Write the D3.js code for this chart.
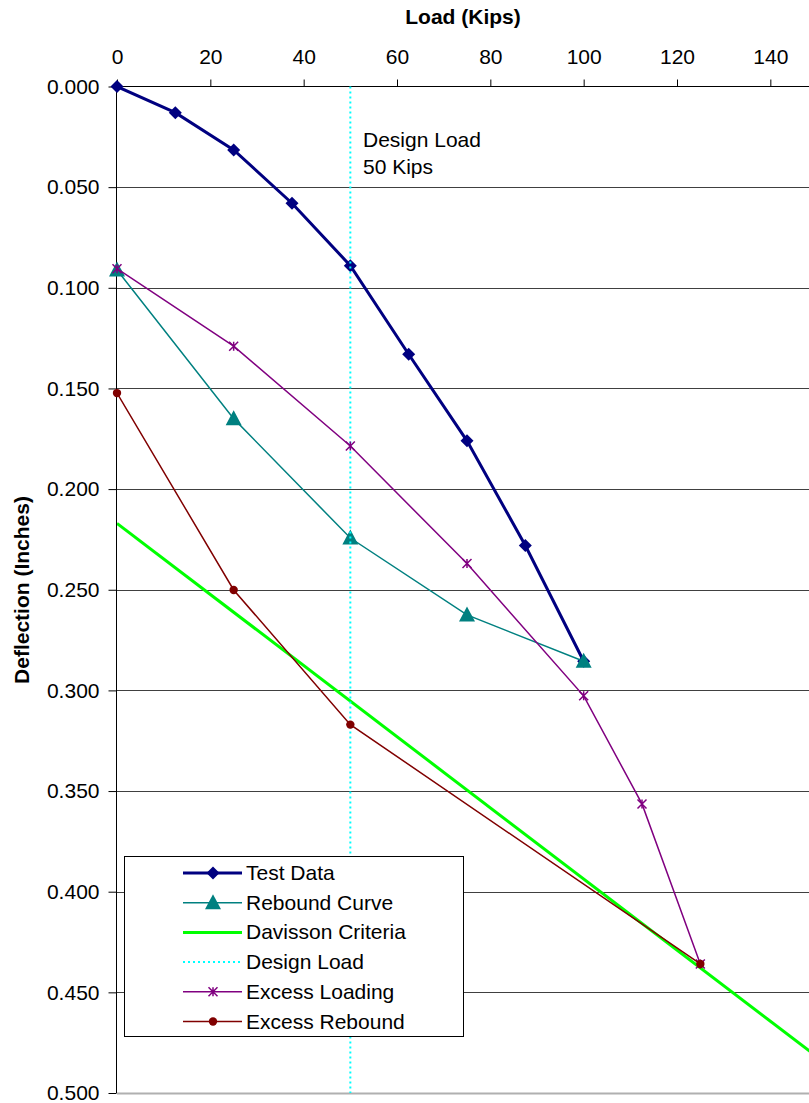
<!DOCTYPE html>
<html><head><meta charset="utf-8">
<script src="https://cdn.jsdelivr.net/npm/d3@7"></script>
<style>body{margin:0;background:#fff}svg{display:block}text{font-family:"Liberation Sans",Arial,sans-serif}</style>
</head><body>
<svg id="c" width="809" height="1103"></svg>
<script>
const xTicks = [0,20,40,60,80,100,120,140];
const yTicks = [0,0.05,0.1,0.15,0.2,0.25,0.3,0.35,0.4,0.45,0.5];
const testLoad = [0,12.5,25,37.5,50,62.5,75,87.5,100];
const testDefl = [0,0.013,0.0315,0.058,0.089,0.133,0.176,0.228,0.2855];
const reboundLoad = [100,75,50,25,0];
const reboundDefl = [0.2855,0.2625,0.2243,0.165,0.0912];
const davLoad = [0,150];
const davDefl = [0.217,0.482];
const designLoad = [50,50];
const designDefl = [0,0.5];
const exLoadLoad = [0,25,50,75,100,112.5,125];
const exLoadDefl = [0.0905,0.129,0.1786,0.237,0.3027,0.3564,0.4359];
const exRebLoad = [125,50,25,0];
const exRebDefl = [0.4359,0.317,0.2501,0.1523];

const FONT = "Liberation Sans, Arial, sans-serif";
const svg = d3.select("#c");
const x = d3.scaleLinear().domain([0,150]).range([117,817]);
const y = d3.scaleLinear().domain([0,0.5]).range([86.5,1093]);

// gridlines
svg.append("g").selectAll("line").data(yTicks.slice(1)).join("line")
  .attr("x1",117).attr("x2",809).attr("y1",d=>Math.round(y(d))+0.5).attr("y2",d=>Math.round(y(d))+0.5)
  .attr("stroke",d=>d===0.5?"#b0b0b0":"#404040").attr("stroke-width",d=>d===0.5?2:1);

// axes
const xAxis = d3.axisTop(x).tickValues(xTicks).tickSize(7).tickPadding(16);
const gx = svg.append("g").attr("transform","translate(0,86.5)").call(xAxis);
gx.select(".domain").attr("d","M117,0H809").attr("stroke","#000");
gx.selectAll("text").attr("font-size",21).attr("fill","#000").attr("font-family",FONT);
gx.selectAll("line").attr("stroke","#000");

const yAxis = d3.axisLeft(y).tickValues(yTicks).tickFormat(d3.format(".3f")).tickSize(8).tickPadding(9);
const gy = svg.append("g").attr("transform","translate(116.5,0)").call(yAxis);
gy.select(".domain").attr("d","M0,86.5V1093").attr("stroke","#000");
gy.selectAll("text").attr("font-size",21).attr("fill","#000").attr("font-family",FONT);
gy.selectAll("line").attr("stroke","#000");

svg.append("text").attr("x",463).attr("y",24).attr("text-anchor","middle")
  .attr("font-size",21).attr("font-weight","bold").text("Load (Kips)");
svg.append("text").attr("transform","translate(29,590) rotate(-90)").attr("text-anchor","middle")
  .attr("font-size",21).attr("font-weight","bold").text("Deflection (Inches)");

const line = d3.line().x(d=>x(d[0])).y(d=>y(d[1]));
const zip = (a,b)=>a.map((v,i)=>[v,b[i]]);
const plot = svg.append("g");
plot.append("clipPath").attr("id","clip").append("rect").attr("x",117).attr("y",86).attr("width",700).attr("height",1008);
const series = [
  {name:"Test Data", pts:zip(testLoad,testDefl), color:"#000080", w:3, marker:"diamond"},
  {name:"Rebound Curve", pts:zip(reboundLoad,reboundDefl), color:"#008080", w:1.5, marker:"triangle"},
  {name:"Davisson Criteria", pts:zip(davLoad,davDefl), color:"#00FF00", w:3, marker:null},
  {name:"Design Load", pts:zip(designLoad,designDefl), color:"#00FFFF", w:2, marker:null, dash:"2,3"},
  {name:"Excess Loading", pts:zip(exLoadLoad,exLoadDefl), color:"#800080", w:1.5, marker:"star"},
  {name:"Excess Rebound", pts:zip(exRebLoad,exRebDefl), color:"#800000", w:1.5, marker:"circle"}
];
function drawMarker(g, type, color, cx, cy){
  if(type==="diamond"){
    g.append("path").attr("d",`M${cx},${cy-6.5}L${cx+6.5},${cy}L${cx},${cy+6.5}L${cx-6.5},${cy}Z`).attr("fill",color);
  } else if(type==="triangle"){
    g.append("path").attr("d",`M${cx},${cy-8.5}L${cx+8},${cy+6.5}L${cx-8},${cy+6.5}Z`).attr("fill",color);
  } else if(type==="star"){
    const r=4.5;
    g.append("path").attr("d",`M${cx-r},${cy-r}L${cx+r},${cy+r}M${cx-r},${cy+r}L${cx+r},${cy-r}M${cx},${cy-r}L${cx},${cy+r}`)
      .attr("stroke",color).attr("stroke-width",1.5).attr("fill","none");
  } else if(type==="circle"){
    g.append("circle").attr("cx",cx).attr("cy",cy).attr("r",4.2).attr("fill",color);
  }
}
series.forEach(s=>{
  const g = plot.append("g").attr("clip-path","url(#clip)");
  g.append("path").attr("d",line(s.pts)).attr("fill","none").attr("stroke",s.color)
    .attr("stroke-width",s.w).attr("stroke-dasharray",s.dash||null);
  if(s.marker) s.pts.forEach(p=>drawMarker(plot,s.marker,s.color,x(p[0]),y(p[1])));
});

svg.append("text").attr("x",363).attr("y",147).attr("font-size",21).text("Design Load");
svg.append("text").attr("x",363).attr("y",174).attr("font-size",21).text("50 Kips");

// legend
const lg = svg.append("g");
lg.append("rect").attr("x",124.5).attr("y",856.5).attr("width",339).attr("height",180)
  .attr("fill","#fff").attr("stroke","#000").attr("stroke-width",1);
series.forEach((s,i)=>{
  const cy = 873 + i*29.7;
  lg.append("line").attr("x1",183).attr("x2",242).attr("y1",cy).attr("y2",cy)
    .attr("stroke",s.color).attr("stroke-width",s.w).attr("stroke-dasharray",s.dash||null);
  if(s.marker) drawMarker(lg,s.marker,s.color,213,cy);
  lg.append("text").attr("x",246).attr("y",cy+7).attr("font-size",21).text(s.name);
});
</script>
</body></html>
